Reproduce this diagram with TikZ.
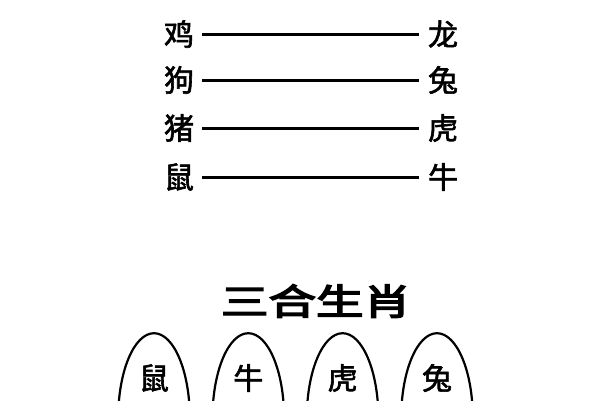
\documentclass[tikz,border=0pt]{standalone}
\usepackage{fontspec}
\newfontfamily\cjk[FakeBold=2]{Noto Sans CJK SC}
\newfontfamily\cjkbold[FakeBold=4]{Noto Sans CJK SC}
\begin{document}
\begin{tikzpicture}[x=1pt,y=-1pt,
  animal/.style={inner sep=0pt,font=\cjk\fontsize{30}{30}\selectfont},
  pairline/.style={line width=3pt,shorten <=8pt,shorten >=9pt},
  arch/.style={line width=2.2pt},
  title/.style={inner sep=0pt,font=\cjkbold\fontsize{36}{36}\selectfont,xscale=1.32,transform shape}]
\useasboundingbox (0,0) rectangle (600,400);
\clip (0,0) rectangle (600,400);
% pairs
\node[animal] (l1) at (179,34) {鸡};
\node[animal] (l2) at (179,80) {狗};
\node[animal] (l3) at (179,128) {猪};
\node[animal] (l4) at (179,177) {鼠};
\node[animal] (r1) at (443,34) {龙};
\node[animal] (r2) at (443,80) {兔};
\node[animal] (r3) at (443,128) {虎};
\node[animal] (r4) at (443,177) {牛};
\foreach \i in {1,...,4} \draw[pairline] (l\i.east) -- (r\i.west);
% title
\node[title] (t) at (316,301) {三合生肖};
% arches
\foreach \cx/\lab [count=\k] in {154/鼠,248.3/牛,342.6/虎,437/兔}{
  \draw[arch] (\cx,418) ellipse [x radius=35.8, y radius=84.8];
  \node[animal] (a\k) at (\cx,378) {\lab};
}
\end{tikzpicture}
\end{document}
